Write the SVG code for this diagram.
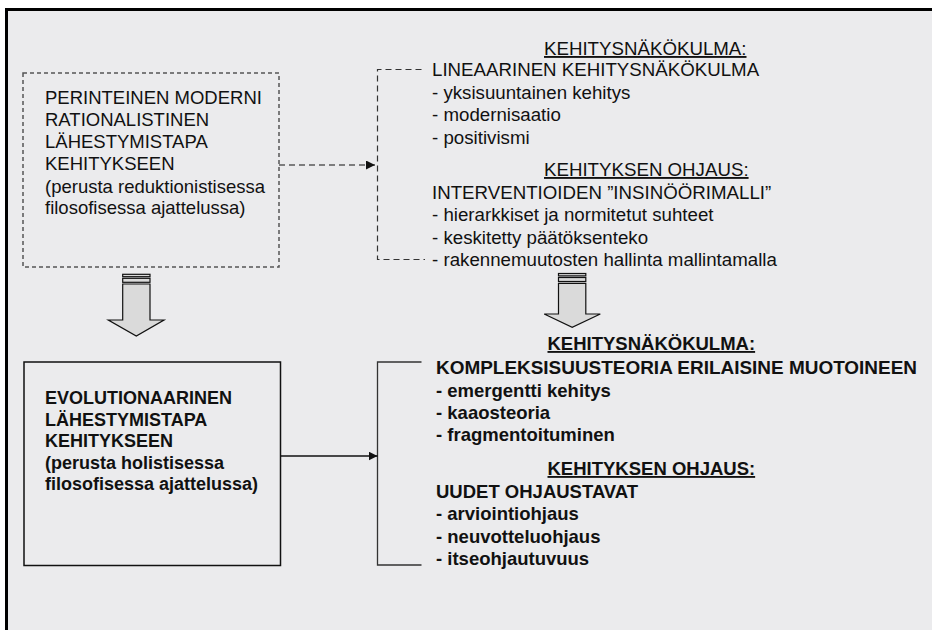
<svg xmlns="http://www.w3.org/2000/svg" width="932" height="630" viewBox="0 0 932 630">
  <style>
    text { font-family: "Liberation Sans", Arial, sans-serif; fill: #111; }
    .reg { font-size: 18.7px; }
    .big { font-size: 18.5px; }
    .bold { font-size: 18px; font-weight: bold; }
    .boldr { font-size: 18.5px; font-weight: bold; }
    .ul { text-decoration: underline; }
    .block { fill: #dadada; stroke: #111; stroke-width: 1.2; }
  </style>
  <defs>
    <marker id="tip" viewBox="0 0 10 10" refX="10" refY="5" markerWidth="9" markerHeight="9" markerUnits="userSpaceOnUse" orient="auto">
      <path d="M0,0 L10,5 L0,10 Z" fill="#111"/>
    </marker>
  </defs>

  <!-- slide background and frame -->
  <rect x="0" y="0" width="932" height="630" fill="#ffffff"/>
  <rect x="6.5" y="9.5" width="940" height="640" fill="#ebebed" stroke="#000" stroke-width="3"/>

  <!-- traditional approach -->
  <g id="traditional">
    <rect x="23" y="73" width="256" height="194" fill="none" stroke="#555" stroke-width="1.5" stroke-dasharray="4 3"/>
    <text class="big" x="45" y="104">PERINTEINEN MODERNI</text>
    <text class="big" x="45" y="126">RATIONALISTINEN</text>
    <text class="big" x="45" y="148">LÄHESTYMISTAPA</text>
    <text class="big" x="45" y="170">KEHITYKSEEN</text>
    <text class="big" x="45" y="192.5">(perusta reduktionistisessa</text>
    <text class="big" x="45" y="214">filosofisessa ajattelussa)</text>
  </g>

  <!-- evolutionary approach -->
  <g id="evolutionary">
    <rect x="24" y="362" width="256.5" height="203.5" fill="none" stroke="#111" stroke-width="1.5"/>
    <text class="bold" x="45" y="404">EVOLUTIONAARINEN</text>
    <text class="bold" x="45" y="425.5">LÄHESTYMISTAPA</text>
    <text class="bold" x="45" y="447">KEHITYKSEEN</text>
    <text class="bold" x="45" y="468.5">(perusta holistisessa</text>
    <text class="bold" x="45" y="490">filosofisessa ajattelussa)</text>
  </g>

  <!-- linear view -->
  <g id="linear-view">
    <text class="reg ul" x="544" y="55">KEHITYSNÄKÖKULMA:</text>
    <text class="reg" x="432" y="76">LINEAARINEN KEHITYSNÄKÖKULMA</text>
    <text class="reg" x="432" y="98.5">- yksisuuntainen kehitys</text>
    <text class="reg" x="432" y="121">- modernisaatio</text>
    <text class="reg" x="432" y="143.5">- positivismi</text>
    <text class="reg ul" x="544" y="176">KEHITYKSEN OHJAUS:</text>
    <text class="reg" x="432" y="198.5">INTERVENTIOIDEN ”INSINÖÖRIMALLI”</text>
    <text class="reg" x="432" y="221">- hierarkkiset ja normitetut suhteet</text>
    <text class="reg" x="432" y="243.5">- keskitetty päätöksenteko</text>
    <text class="reg" x="432" y="266">- rakennemuutosten hallinta mallintamalla</text>
  </g>

  <!-- complexity view -->
  <g id="complexity-view">
    <text class="boldr ul" x="547.5" y="350">KEHITYSNÄKÖKULMA:</text>
    <text class="boldr" x="436" y="374" textLength="481" lengthAdjust="spacingAndGlyphs">KOMPLEKSISUUSTEORIA ERILAISINE MUOTOINEEN</text>
    <text class="boldr" x="436" y="396.5">- emergentti kehitys</text>
    <text class="boldr" x="436" y="418.5">- kaaosteoria</text>
    <text class="boldr" x="436" y="441">- fragmentoituminen</text>
    <text class="boldr ul" x="547.5" y="475">KEHITYKSEN OHJAUS:</text>
    <text class="boldr" x="436" y="498">UUDET OHJAUSTAVAT</text>
    <text class="boldr" x="436" y="520">- arviointiohjaus</text>
    <text class="boldr" x="436" y="542.5">- neuvotteluohjaus</text>
    <text class="boldr" x="436" y="565">- itseohjautuvuus</text>
  </g>

  <!-- connectors -->
  <g id="connectors">
    <!-- dashed bracket and arrow to the linear view -->
    <path d="M421.5,69.5 H377.5 V259.5 H425" fill="none" stroke="#333" stroke-width="1.2" stroke-dasharray="6 4"/>
    <line x1="279" y1="165" x2="375" y2="165" stroke="#111" stroke-width="1.2" stroke-dasharray="6 4" marker-end="url(#tip)"/>
    <!-- solid bracket and arrow to the complexity view -->
    <path d="M421.5,362 H377.5 V565 H421.5" fill="none" stroke="#333" stroke-width="1.3"/>
    <line x1="281" y1="456" x2="377.5" y2="456" stroke="#111" stroke-width="1.3" marker-end="url(#tip)"/>

    <!-- block arrow, left -->
    <rect class="block" x="122.7" y="274.3" width="27.3" height="2.4"/>
    <rect class="block" x="122.7" y="278.3" width="27.3" height="4"/>
    <path class="block" d="M122.7,284 H150 V320 H164 L136.3,336 L108.3,320 H122.7 Z"/>

    <!-- block arrow, right -->
    <rect class="block" x="558.5" y="273.5" width="27.3" height="2.4"/>
    <rect class="block" x="558.5" y="277.5" width="27.3" height="4"/>
    <path class="block" d="M558.5,283.3 H585.8 V314 H600.3 L572.2,327.3 L544.2,314 H558.5 Z"/>
  </g>
</svg>
